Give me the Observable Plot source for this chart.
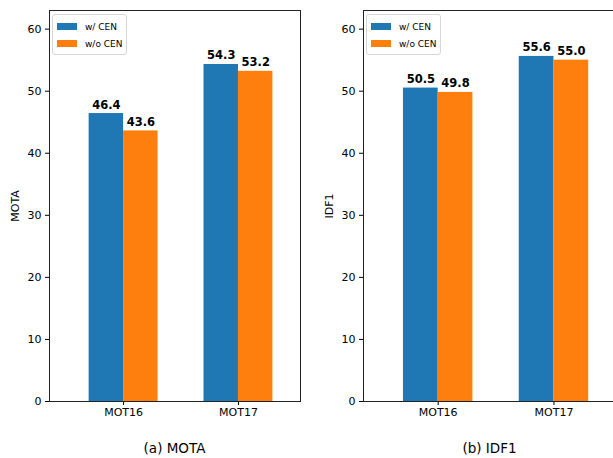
<!DOCTYPE html>
<html><head><meta charset="utf-8">
<script src="https://cdn.jsdelivr.net/npm/d3@7"></script>
<script src="https://cdn.jsdelivr.net/npm/@observablehq/plot@0.6"></script>
<style>
body{margin:0;width:613px;height:458px;overflow:hidden;background:#fff;font-family:"DejaVu Sans",sans-serif;}
#root{position:relative;width:613px;height:458px;overflow:hidden;}
.panel{position:absolute;top:0;}
.panel svg{max-width:none !important;}
.cap{position:absolute;top:440px;font-size:13.5px;text-align:center;color:#000;}
.legend{position:absolute;top:14px;border:1px solid #d6d6d6;border-radius:3px;background:rgba(255,255,255,0.8);padding:3px 4px 2px 4px;font-size:9px;color:#000;}
.legend div{display:flex;align-items:center;height:17px;}
.legend span.sw{display:inline-block;width:20px;height:7px;margin-right:8px;}
</style></head>
<body><div id="root"></div>
<script>
const categories = ["MOT16", "MOT17"];
const series = ["w/ CEN", "w/o CEN"];
const motaWith = [46.4, 54.3];
const motaWithout = [43.6, 53.2];
const idf1With = [50.5, 55.6];
const idf1Without = [49.8, 55.0];
const yTicks = [0, 10, 20, 30, 40, 50, 60];
const colors = ["#1f77b4", "#ff7f0e"];
const captions = ["(a) MOTA", "(b) IDF1"];
const metrics = ["MOTA", "IDF1"];

const barW = 0.3;
function rows(withVals, withoutVals) {
  const out = [];
  categories.forEach((c, i) => {
    out.push({cat: c, i, series: series[0], value: withVals[i], x1: i - barW, x2: i});
    out.push({cat: c, i, series: series[1], value: withoutVals[i], x1: i, x2: i + barW});
  });
  return out;
}

function panel(data, label, width, marginLeft, marginRight) {
  return Plot.plot({
    width, height: 430,
    marginTop: 10, marginBottom: 29, marginLeft, marginRight,
    style: {fontFamily: "DejaVu Sans, sans-serif", fontSize: "11px", color: "#000", background: "transparent", maxWidth: "none"},
    x: {type: "linear", domain: [-0.645, 1.54], ticks: [0, 1], tickFormat: d => categories[d], tickSize: 4, tickPadding: 3, label: null},
    y: {domain: [0, 63], ticks: yTicks, tickSize: 4, tickPadding: 4, label, labelAnchor: "center", labelArrow: "none", labelOffset: 38},
    color: {domain: series, range: colors},
    marks: [
      Plot.rectY(data, {x1: "x1", x2: "x2", y1: 0, y2: "value", fill: "series"}),
      Plot.text(data, {x: d => (d.x1 + d.x2) / 2, y: "value", text: d => d.value.toFixed(1), lineAnchor: "bottom", dy: -5, fontWeight: "bold", fontSize: 11.5, fill: "#000"}),
      Plot.frame({stroke: "#222", strokeWidth: 1})
    ]
  });
}

const root = document.getElementById("root");
const configs = [
  {data: rows(motaWith, motaWithout), left: 0, width: 310, ml: 49, mr: 10},
  {data: rows(idf1With, idf1Without), left: 310, width: 309, ml: 53, mr: 3}
];
configs.forEach((cfg, k) => {
  const div = document.createElement("div");
  div.className = "panel";
  div.style.left = cfg.left + "px";
  div.style.width = cfg.width + "px";
  div.appendChild(panel(cfg.data, metrics[k], cfg.width, cfg.ml, cfg.mr));
  root.appendChild(div);
  const cap = document.createElement("div");
  cap.className = "cap";
  cap.style.left = (cfg.left + cfg.ml) + "px";
  cap.style.width = (cfg.width - cfg.ml - cfg.mr) + "px";
  cap.textContent = captions[k];
  root.appendChild(cap);
  const lg = document.createElement("div");
  lg.className = "legend";
  lg.style.left = (cfg.left + cfg.ml + 3) + "px";
  series.forEach((s, j) => {
    const row = document.createElement("div");
    row.innerHTML = `<span class="sw" style="background:${colors[j]}"></span>${s}`;
    lg.appendChild(row);
  });
  root.appendChild(lg);
});
</script></body></html>
